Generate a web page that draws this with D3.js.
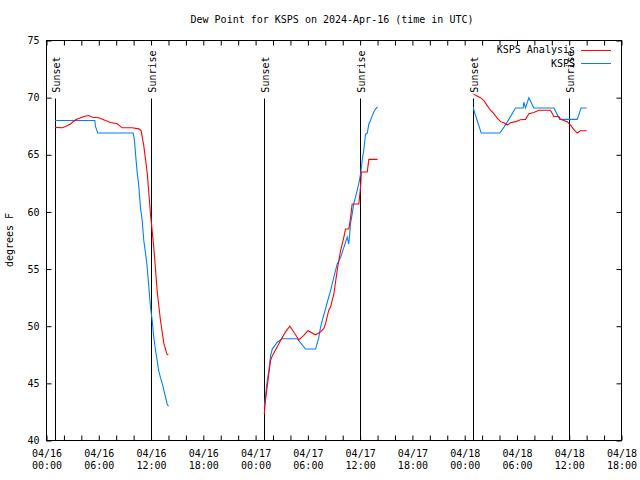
<!DOCTYPE html>
<html><head><meta charset="utf-8">
<script src="https://cdn.jsdelivr.net/npm/d3@7"></script>
<style>
body{margin:0;background:#fff;}
svg text{font-family:"DejaVu Sans Mono",monospace;font-size:10px;fill:#000;}
</style></head>
<body><svg id="c" width="640" height="480"></svg>
<script>
// ---- data (UTC times, dew point °F) ----
const title = "Dew Point for KSPS on 2024-Apr-16 (time in UTC)";
const yLabel = "degrees F";
const seriesNames = ["KSPS Analysis", "KSPS"];
const seriesColors = ["#ff0000", "#0080ff"];
const yTicks = [40, 45, 50, 55, 60, 65, 70, 75];

const analysisTimes = [
 "2024-04-16 01:00","2024-04-16 01:48","2024-04-16 02:11","2024-04-16 02:45","2024-04-16 03:20","2024-04-16 04:17","2024-04-16 04:51","2024-04-16 05:15","2024-04-16 06:00","2024-04-16 06:46","2024-04-16 07:21","2024-04-16 08:07","2024-04-16 08:41","2024-04-16 09:50","2024-04-16 10:36","2024-04-16 10:52","2024-04-16 11:10","2024-04-16 11:34","2024-04-16 11:56","2024-04-16 12:19","2024-04-16 12:42","2024-04-16 13:05","2024-04-16 13:28","2024-04-16 13:51","2024-04-16 14:00",
 "2024-04-17 01:00","2024-04-17 01:08","2024-04-17 01:20","2024-04-17 01:31","2024-04-17 01:43","2024-04-17 01:55","2024-04-17 02:29","2024-04-17 02:52","2024-04-17 03:26","2024-04-17 03:56","2024-04-17 04:23","2024-04-17 04:58","2024-04-17 05:32","2024-04-17 06:00","2024-04-17 06:53","2024-04-17 07:27","2024-04-17 07:50","2024-04-17 08:01","2024-04-17 08:24","2024-04-17 08:36","2024-04-17 08:59","2024-04-17 09:22","2024-04-17 09:45","2024-04-17 10:08","2024-04-17 10:19","2024-04-17 10:42","2024-04-17 10:54","2024-04-17 11:05","2024-04-17 11:51","2024-04-17 12:03","2024-04-17 12:09","2024-04-17 12:49","2024-04-17 13:00","2024-04-17 14:00",
 "2024-04-18 01:00","2024-04-18 01:15","2024-04-18 01:49","2024-04-18 02:12","2024-04-18 02:35","2024-04-18 02:58","2024-04-18 03:21","2024-04-18 03:44","2024-04-18 04:07","2024-04-18 04:29","2024-04-18 04:53","2024-04-18 05:16","2024-04-18 05:50","2024-04-18 06:24","2024-04-18 06:59","2024-04-18 07:22","2024-04-18 07:56","2024-04-18 08:31","2024-04-18 09:51","2024-04-18 10:14","2024-04-18 10:48","2024-04-18 11:00","2024-04-18 11:46","2024-04-18 12:09","2024-04-18 12:32","2024-04-18 12:55","2024-04-18 13:17","2024-04-18 14:00"
];
const analysisDewpt = [
 67.4,67.36,67.47,67.7,68.06,68.35,68.44,68.29,68.24,68.0,67.83,67.71,67.36,67.36,67.27,67.1,65.8,63.36,59.86,56.9,53.1,50.5,48.5,47.5,47.5,
 42.3,43.5,44.7,45.8,47.0,47.4,48.2,48.75,49.5,50.0,49.5,48.8,49.2,49.6,49.25,49.5,49.8,50.2,51.4,51.67,52.8,54.9,56.6,57.8,58.5,58.5,59.5,60.7,60.7,62.2,63.5,63.5,64.6,64.6,
 70.33,70.2,70.0,69.75,69.3,68.9,68.6,68.2,67.9,67.8,67.6,67.8,67.9,68.06,68.1,68.6,68.7,68.9,68.9,68.35,68.35,68.1,67.9,67.6,67.2,66.9,67.1,67.1
];

const obsTimes = [
 "2024-04-16 01:00","2024-04-16 05:33","2024-04-16 05:37","2024-04-16 05:53","2024-04-16 09:57","2024-04-16 10:06","2024-04-16 10:13","2024-04-16 10:25","2024-04-16 10:36","2024-04-16 10:47","2024-04-16 10:59","2024-04-16 11:10","2024-04-16 11:22","2024-04-16 11:33","2024-04-16 11:45","2024-04-16 11:56","2024-04-16 12:08","2024-04-16 12:19","2024-04-16 12:31","2024-04-16 12:42","2024-04-16 12:53","2024-04-16 13:05","2024-04-16 13:17","2024-04-16 13:28","2024-04-16 13:40","2024-04-16 13:51","2024-04-16 14:00",
 "2024-04-17 01:00","2024-04-17 01:08","2024-04-17 01:20","2024-04-17 01:31","2024-04-17 01:43","2024-04-17 01:55","2024-04-17 02:29","2024-04-17 03:03","2024-04-17 04:47","2024-04-17 05:44","2024-04-17 06:53","2024-04-17 07:15","2024-04-17 07:27","2024-04-17 07:39","2024-04-17 08:01","2024-04-17 08:17","2024-04-17 08:36","2024-04-17 08:59","2024-04-17 09:22","2024-04-17 09:45","2024-04-17 10:08","2024-04-17 10:31","2024-04-17 10:42","2024-04-17 10:54","2024-04-17 11:05","2024-04-17 11:16","2024-04-17 11:28","2024-04-17 11:40","2024-04-17 11:51","2024-04-17 12:03","2024-04-17 12:14","2024-04-17 12:25","2024-04-17 12:37","2024-04-17 12:49","2024-04-17 13:00","2024-04-17 13:11","2024-04-17 13:23","2024-04-17 13:34","2024-04-17 13:46","2024-04-17 14:00",
 "2024-04-18 01:00","2024-04-18 01:03","2024-04-18 01:26","2024-04-18 01:54","2024-04-18 04:02","2024-04-18 04:29","2024-04-18 05:04","2024-04-18 05:50","2024-04-18 06:43","2024-04-18 06:47","2024-04-18 06:59","2024-04-18 07:22","2024-04-18 07:56","2024-04-18 10:14","2024-04-18 10:55","2024-04-18 12:55","2024-04-18 13:22","2024-04-18 14:00"
];
const obsDewpt = [
 68.0,68.0,67.5,66.9,66.9,66.25,65.1,63.4,62.2,60.4,59.25,57.5,56.4,55.2,53.4,51.7,50.5,49.0,47.9,47.0,46.1,45.5,45.0,44.4,43.8,43.2,43.0,
 42.9,43.8,45.25,46.1,47.4,48.0,48.6,48.9,48.9,48.0,48.0,49.0,49.9,50.5,51.5,52.25,53.1,54.3,55.45,56.0,56.9,57.8,57.2,59.0,59.8,60.7,61.3,61.9,62.5,63.3,64.5,65.4,66.8,66.9,67.7,68.0,68.4,68.75,69.0,69.2,
 69.2,68.9,68.0,66.9,66.9,67.4,68.1,69.1,69.1,69.6,69.1,70.0,69.1,69.1,68.1,68.1,69.1,69.1
];

const sunEvents = ["Sunset","Sunrise","Sunset","Sunrise","Sunset","Sunrise"];
const sunTimes = ["2024-04-16 01:00","2024-04-16 12:04","2024-04-17 01:01","2024-04-17 12:03","2024-04-18 01:01","2024-04-18 12:02"];

const xStart = "2024-04-16 00:00", xEnd = "2024-04-18 18:00";

// ---- drawing ----
const parse = d3.utcParse("%Y-%m-%d %H:%M");
const svg = d3.select("#c");
const L = 46.5, R = 621.5, T = 40.5, B = 440.5;
const x = d3.scaleUtc().domain([parse(xStart), parse(xEnd)]).range([L, R]);
const y = d3.scaleLinear().domain([40, 75]).range([B, T]);

svg.append("rect").attr("width",640).attr("height",480).attr("fill","#fff");

const tick2h = d3.utcHour.every(2).range(parse(xStart), d3.utcMinute.offset(parse(xEnd),1));
const fmtD = d3.utcFormat("%m/%d"), fmtT = d3.utcFormat("%H:%M");

// bottom axis
const gB = svg.append("g").attr("transform",`translate(0,${B})`)
  .call(d3.axisBottom(x).tickValues(tick2h).tickSize(-5).tickSizeOuter(0).tickFormat(""));
gB.selectAll(".tick").filter(d=>d.getUTCHours()%6===0).each(function(d){
  const t = d3.select(this).append("text").attr("text-anchor","middle").attr("fill","#000").attr("stroke","none");
  t.append("tspan").attr("x",0).attr("y",16.5).text(fmtD(d));
  t.append("tspan").attr("x",0).attr("y",28).text(fmtT(d));
});
// top axis (mirror ticks)
svg.append("g").attr("transform",`translate(0,${T})`)
  .call(d3.axisTop(x).tickValues(tick2h).tickSize(-5).tickSizeOuter(0).tickFormat(""));
// left axis
svg.append("g").attr("transform",`translate(${L},0)`)
  .call(d3.axisLeft(y).tickValues(yTicks).tickSize(-5).tickSizeOuter(0).tickPadding(7).tickFormat(d3.format("d")));
// right axis
svg.append("g").attr("transform",`translate(${R},0)`)
  .call(d3.axisRight(y).tickValues(yTicks).tickSize(-5).tickSizeOuter(0).tickFormat(""));
svg.selectAll(".domain").remove();
svg.selectAll(".tick line").attr("stroke","#000");
svg.selectAll(".tick text").style("font-family","'DejaVu Sans Mono',monospace").style("font-size","10px");

// frame
svg.append("rect").attr("x",L).attr("y",T).attr("width",R-L).attr("height",B-T)
  .attr("fill","none").attr("stroke","#000");

// sunrise/sunset lines
sunTimes.forEach((s,i)=>{
  const xp = Math.round(x(parse(s))-0.5)+0.5;
  svg.append("line").attr("x1",xp).attr("x2",xp).attr("y1",Math.round(y(70))+0.5).attr("y2",B)
    .attr("stroke","#000");
  svg.append("text").attr("transform",`translate(${xp+1},${y(70)-5}) rotate(-90)`)
    .attr("dominant-baseline","central").attr("text-anchor","start").text(sunEvents[i]);
});

// series, split at the overnight gaps
function segs(times, vals){
  const pts = times.map((t,i)=>({t:parse(t), v:vals[i]}));
  const out=[]; let cur=[];
  pts.forEach((p,i)=>{
    if(i>0 && (p.t - pts[i-1].t) > 8*3600e3){ out.push(cur); cur=[]; }
    cur.push(p);
  });
  out.push(cur); return out;
}
const line = d3.line().x(d=>x(d.t)).y(d=>y(d.v));
const seriesData = [[obsTimes,obsDewpt,1],[analysisTimes,analysisDewpt,0]];
seriesData.forEach(([t,v,k])=>{
  segs(t,v).forEach(sg=>{
    svg.append("path").datum(sg).attr("d",line).attr("fill","none")
      .attr("stroke",seriesColors[k]).attr("stroke-width",1.1);
  });
});

// title and y label
svg.append("text").attr("x",332).attr("y",23).attr("text-anchor","middle").text(title);
svg.append("text").attr("transform","translate(13,240) rotate(-90)").attr("text-anchor","middle").text(yLabel);

// legend
seriesNames.forEach((n,i)=>{
  const ly = 49.5 + i*13.5;
  svg.append("text").attr("x",575).attr("y",ly).attr("dominant-baseline","central").attr("text-anchor","end").text(n);
  svg.append("line").attr("x1",581).attr("x2",611).attr("y1",Math.round(ly)+0.5).attr("y2",Math.round(ly)+0.5)
    .attr("stroke",seriesColors[i]);
});
</script></body></html>
